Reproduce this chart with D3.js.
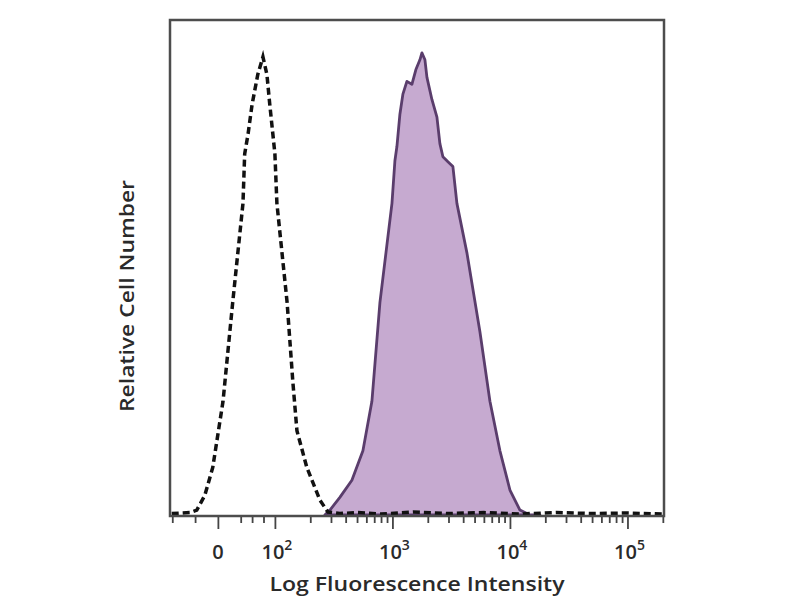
<!DOCTYPE html>
<html>
<head>
<meta charset="utf-8">
<style>
    body { margin: 0; background: #fff; }
    .frame { fill: none; stroke: #4d4d4d; stroke-width: 2.5px; }
    .stained { fill: #c6aad0; stroke: #5a3d6c; stroke-width: 2.8px; stroke-linejoin: round; }
    .isotype { fill: none; stroke: #111; stroke-width: 3.5px; stroke-dasharray: 7,4; }
    .axis path { display: none; }
    .axis line { stroke: #444; stroke-width: 1.8px; }
    text { fill: #2a2a2a; font-family: "Open Sans", "DejaVu Sans", sans-serif; font-weight: 600; }
</style>
</head>
<body>
<script src="https://cdn.jsdelivr.net/npm/d3@7"></script>
<script>

// isotype control (dashed) - intensity / relative count
var isoX = [-81, -49, -37, -23, -9, 9, 26, 44, 47, 53, 60, 70, 79, 86, 91, 100, 104, 127, 142, 154, 187, 242, 283, 357,
            500, 800, 1500, 3000, 6000, 12000, 25000, 50000, 100000, 200000];
var isoY = [0.3, 0.5, 1.0, 4.0, 9.7, 23.2, 43.4, 63.6, 73.7, 77.8, 83.8, 89.9, 93.5, 89.9, 83.8, 73.7, 63.6, 43.4, 27.3, 17.2, 9.7, 3.0, 0.6, 0.3,
            0.5, 0.2, 0.6, 0.3, 0.5, 0.2, 0.5, 0.3, 0.4, 0.2];

// stained sample (purple filled)
var posX = [266, 294, 357, 452, 561, 669, 783, 881, 991, 1050, 1092, 1158, 1228, 1328, 1465, 1584, 1714, 1782, 1891, 1967,
            2168, 2392, 2535, 2689, 2966, 3271, 3538, 4305, 5554, 6757, 8221, 10000, 12164, 14800, 17996];
var posY = [0, 1.0, 3.6, 7.1, 13.1, 23.2, 43.4, 53.5, 63.6, 72.3, 75.2, 81.8, 85.9, 88.5, 87.9, 90.9, 92.9, 94.3, 92.9, 89.3,
            84.8, 81.2, 75.8, 73.1, 72.1, 71.1, 63.6, 53.5, 37.4, 23.2, 13.1, 5.1, 1.0, 0, 0];

var majorTicks = [0, 100, 1000, 10000, 100000];
var majorLabels = [["0", ""], ["10", "2"], ["10", "3"], ["10", "4"], ["10", "5"]];
var minorTicks = [-80, -40, 40, 60, 80, 200, 300, 400, 500, 600, 700, 800, 900,
                  2000, 3000, 4000, 5000, 6000, 7000, 8000, 9000,
                  20000, 30000, 40000, 50000, 60000, 70000, 80000, 90000, 200000];

var W = 800, H = 600;
var pLeft = 170, pRight = 664, pTop = 20, pBottom = 516;

// biexponential-like display: linear below 100, log above
var linW = 57 / 117.5;
function tf(v) { return v >= 100 ? Math.log10(v) : 2 + (v - 100) / 100 * linW; }
var xLin = d3.scaleLinear().domain([tf(-84), tf(204600)]).range([pLeft, pRight]);
var x = function(v) { return xLin(tf(v)); };
var y = d3.scaleLinear().domain([0, 100]).range([pBottom - 1, pTop + 5]);

var svg = d3.select("body").append("svg")
        .attr("width", W)
        .attr("height", H);

svg.append("clipPath").attr("id", "plotclip")
        .append("rect").attr("x", pLeft).attr("y", pTop).attr("width", pRight - pLeft).attr("height", pBottom - pTop);

var plot = svg.append("g").attr("clip-path", "url(#plotclip)");

var area = d3.area()
        .x(function(d) { return x(d[0]); })
        .y0(y(0))
        .y1(function(d) { return y(d[1]); });
var line = d3.line()
        .x(function(d) { return x(d[0]); })
        .y(function(d) { return y(d[1]); });

var posData = d3.zip(posX, posY);
var isoData = d3.zip(isoX, isoY);

plot.append("path").datum(posData).attr("class", "stained").attr("d", area);
plot.append("path").datum(isoData).attr("class", "isotype").attr("d", line);

svg.append("rect").attr("class", "frame")
        .attr("x", pLeft).attr("y", pTop)
        .attr("width", pRight - pLeft).attr("height", pBottom - pTop);

// ticks under the frame
svg.append("g").attr("class", "axis")
        .attr("transform", "translate(0," + (pBottom + 1) + ")")
        .call(d3.axisBottom(xLin).tickValues(minorTicks.map(tf)).tickSize(6).tickFormat(""));
svg.append("g").attr("class", "axis")
        .attr("transform", "translate(0," + (pBottom + 1) + ")")
        .call(d3.axisBottom(xLin).tickValues(majorTicks.map(tf)).tickSize(12).tickFormat(""));

var lab = svg.selectAll(".ticklabel")
        .data(majorTicks)
        .enter().append("text")
        .attr("class", "ticklabel")
        .attr("x", function(d) { return x(d) + (d > 0 ? 2 : 0); })
        .attr("y", 559)
        .attr("text-anchor", "middle")
        .style("font-size", "20px");
lab.append("tspan").text(function(d, i) { return majorLabels[i][0]; });
lab.append("tspan")
        .attr("dy", -9)
        .style("font-size", "14px")
        .text(function(d, i) { return majorLabels[i][1]; });

svg.append("text")
        .attr("x", 417)
        .attr("y", 591)
        .attr("text-anchor", "middle")
        .attr("textLength", 295)
        .attr("lengthAdjust", "spacingAndGlyphs")
        .style("font-size", "20px")
        .text("Log Fluorescence Intensity");

svg.append("text")
        .attr("transform", "translate(134,296) rotate(-90)")
        .attr("text-anchor", "middle")
        .attr("textLength", 232)
        .attr("lengthAdjust", "spacingAndGlyphs")
        .style("font-size", "19px")
        .text("Relative Cell Number");

</script>
</body>
</html>
